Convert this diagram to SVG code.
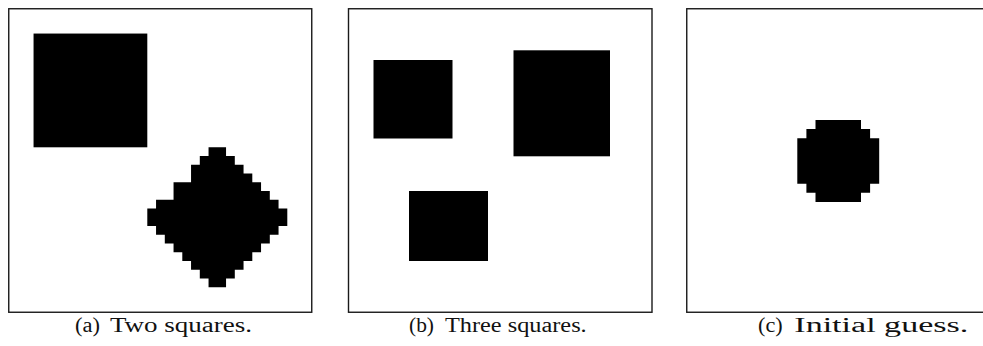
<svg xmlns="http://www.w3.org/2000/svg" width="983" height="346" viewBox="0 0 983 346">
<style>
.frame{fill:#fff;stroke:#1a1a1a;stroke-width:1.4}
.blk{fill:#000}
.cap{font-family:"Liberation Serif","DejaVu Serif",serif;font-size:20px;fill:#111}
</style>
<rect width="983" height="346" fill="#fff"/>
<g id="panel-a">
<rect class="frame" x="8.75" y="8.75" width="303" height="303.5"/>
<rect class="blk" x="33.55" y="33.55" width="113.75" height="113.75"/>
<path class="blk" d="M208.55,147.3 h17.5 v8.75 h8.75 v8.75 h8.75 v8.75 h8.75 v8.75 h8.75 v8.75 h8.75 v8.75 h8.75 v8.75 h8.75 v17.5 h-8.75 v8.75 h-8.75 v8.75 h-8.75 v8.75 h-8.75 v8.75 h-8.75 v8.75 h-8.75 v8.75 h-8.75 v8.75 h-17.5 v-8.75 h-8.75 v-8.75 h-8.75 v-8.75 h-8.75 v-8.75 h-8.75 v-8.75 h-8.75 v-8.75 h-8.75 v-8.75 h-8.75 v-17.5 h8.75 v-8.75 h17.5 v-17.5 h17.5 v-17.5 h8.75 v-8.75 h8.75 z"/>
<text class="cap" y="331.5"><tspan x="75" textLength="25" lengthAdjust="spacingAndGlyphs">(a)</tspan> <tspan x="110" textLength="142" lengthAdjust="spacingAndGlyphs">Two squares.</tspan></text>
</g>
<g id="panel-b">
<rect class="frame" x="348.5" y="8.75" width="303.5" height="303.5"/>
<rect class="blk" x="373.5" y="60" width="79" height="78.5"/>
<rect class="blk" x="513.5" y="50.3" width="96.5" height="106"/>
<rect class="blk" x="409" y="191" width="79" height="70"/>
<text class="cap" y="331.5"><tspan x="409" textLength="25" lengthAdjust="spacingAndGlyphs">(b)</tspan> <tspan x="445" textLength="141.7" lengthAdjust="spacingAndGlyphs">Three squares.</tspan></text>
</g>
<g id="panel-c">
<rect class="frame" x="686.75" y="8.75" width="310" height="303.5"/>
<path class="blk" d="M815.5,120 h45.5 v9.1 h9.1 v9.1 h9.1 v45.5 h-9.1 v9.1 h-9.1 v9.1 h-45.5 v-9.1 h-9.1 v-9.1 h-9.1 v-45.5 h9.1 v-9.1 h9.1 z"/>
<text class="cap" y="331.5"><tspan x="758" textLength="24.7" lengthAdjust="spacingAndGlyphs">(c)</tspan> <tspan x="794.3" textLength="174" lengthAdjust="spacingAndGlyphs">Initial guess.</tspan></text>
</g>
<g id="connectors"></g>
</svg>
